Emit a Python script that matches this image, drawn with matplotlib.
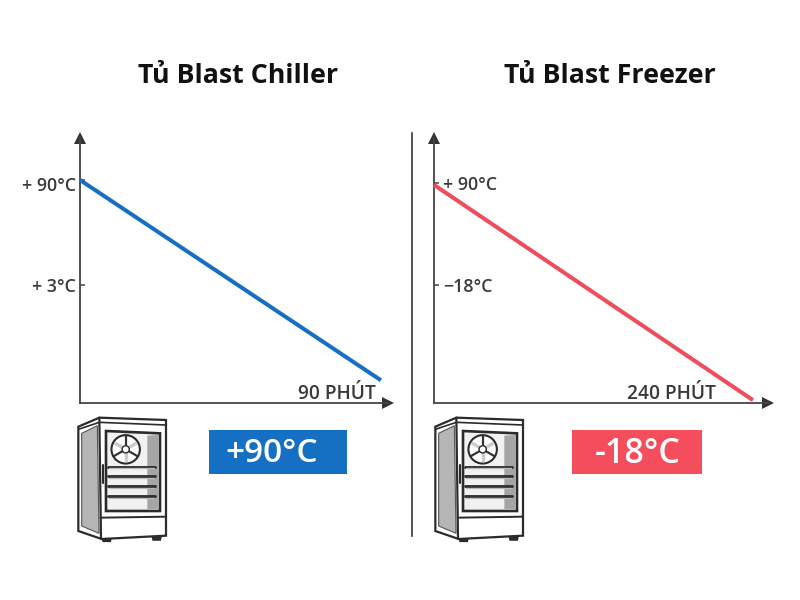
import matplotlib
matplotlib.use("Agg")
import matplotlib.pyplot as plt
from matplotlib.patches import Polygon, Circle, Rectangle
from matplotlib.transforms import ScaledTranslation
import numpy as np

plt.rcParams['font.family'] = ['Open Sans', 'DejaVu Sans']

chiller_time = [0, 90]
chiller_temp = [90, -76]
chiller_ticks = [90, 3]
chiller_labels = ['+ 90°C', '+ 3°C']
chiller_xlabel = '90 PHÚT'
chiller_title = 'Tủ Blast Chiller'
chiller_badge = '+90°C'

freezer_time = [0, 240]
freezer_temp = [88, -140]
freezer_ticks = [90, -18]
freezer_labels = ['+ 90°C', '−18°C']
freezer_xlabel = '240 PHÚT'
freezer_title = 'Tủ Blast Freezer'
freezer_badge = '-18°C'

BLUE = '#1570c4'
RED = '#ef4d5b'
AXC = '#444444'
TXT = '#3a3a3a'

fig = plt.figure(figsize=(8, 6), dpi=100)
W, H = 800, 600

overlay = fig.add_axes([0, 0, 1, 1])
overlay.set_xlim(0, W)
overlay.set_ylim(H, 0)
overlay.axis('off')


def chart(px_left, px_right, px_top, px_bottom, xlim, ylim, t, v, ticks, labels, color, inside, xlabel, xlabel_px):
    ax = fig.add_axes([px_left / W, 1 - px_bottom / H, (px_right - px_left) / W, (px_bottom - px_top) / H])
    ax.patch.set_alpha(0)
    ax.set_xlim(*xlim)
    ax.set_ylim(*ylim)
    for s in ('top', 'right'):
        ax.spines[s].set_visible(False)
    for s in ('left', 'bottom'):
        ax.spines[s].set_color(AXC)
        ax.spines[s].set_linewidth(1.3)
    ax.plot(t, v, color=color, lw=2.9, solid_capstyle='butt', clip_on=False, zorder=3)
    ax.set_xticks([])
    ax.set_yticks(ticks)
    ax.set_yticklabels(labels, fontsize=12.8, fontweight=600, color=TXT)
    ax.tick_params(axis='y', direction='in', length=3.5, width=1.1, color=AXC,
                   pad=-6.8 if inside else 3.2)
    offset = ScaledTranslation(0, -3 / 72 if not inside else 0, fig.dpi_scale_trans)
    for i, lab in enumerate(ax.get_yticklabels()):
        if inside:
            lab.set_ha('left')
        if i == 0:
            lab.set_transform(lab.get_transform() + offset)
    ax.plot(1, 0, marker='>', ms=8.5, color='#333333', transform=ax.transAxes, clip_on=False, mew=0)
    ax.plot(0, 1, marker='^', ms=8.5, color='#333333', transform=ax.transAxes, clip_on=False, mew=0)
    ax.text(xlabel_px, 394, xlabel, fontsize=13.8, fontweight=600, color=TXT, ha='center', va='center',
            transform=overlay.transData)
    return ax


chart(80, 388, 138, 403, (0, 92.1), (-94.8, 124.8), chiller_time, chiller_temp, chiller_ticks,
      chiller_labels, BLUE, False, chiller_xlabel, 337)
chart(434, 768, 138, 403, (0, 251.3), (-143, 137.6), freezer_time, freezer_temp, freezer_ticks,
      freezer_labels, RED, True, freezer_xlabel, 671)

overlay.plot([411.5, 411.5], [133, 536], color='#222222', lw=1.1)

overlay.text(238.5, 76, chiller_title, fontsize=19.3, fontweight='bold', color='#111111', ha='center', va='center')
overlay.text(610, 76, freezer_title, fontsize=19.3, fontweight='bold', color='#111111', ha='center', va='center')

overlay.add_patch(Rectangle((209, 430), 138, 44, fc=BLUE, ec='none'))
overlay.add_patch(Rectangle((572, 430), 130, 44, fc='#f44d5c', ec='none'))
overlay.text(271.5, 454, chiller_badge, fontsize=24, fontweight=600, color='white', ha='center', va='center')
overlay.text(637.5, 454, freezer_badge, fontsize=24.5, fontweight=600, color='white', ha='center', va='center')


def fridge(dx):
    def p(x, y):
        return (x / 3 + 60 + dx, y / 3 + 405)

    def poly(pts, fc='white', ec='#2b2b2b', lw=1.6, z=2):
        overlay.add_patch(Polygon([p(*q) for q in pts], closed=True, fc=fc, ec=ec, lw=lw, zorder=z))

    def line(pts, c='#2b2b2b', lw=1.3, z=4):
        xy = np.array([p(*q) for q in pts])
        overlay.plot(xy[:, 0], xy[:, 1], color=c, lw=lw, zorder=z, solid_capstyle='round')

    # feet
    poly([(128, 398), (152, 398), (150, 408), (130, 408)], fc='#333333', z=1)
    poly([(278, 395), (302, 395), (300, 404), (280, 404)], fc='#333333', z=1)
    # body
    poly([(55, 65), (118, 38), (318, 45), (318, 392), (125, 402), (55, 378)])
    line([(118, 38), (123, 402)], lw=1.6)
    line([(58, 72), (118, 52), (318, 60)], lw=1.2)
    poly([(65, 85), (112, 62), (117, 385), (65, 363)], fc='#b5b5b5', ec='#555555', lw=0.8)
    line([(122, 338), (318, 335)], lw=1.4)
    # window
    poly([(138, 78), (300, 85), (300, 318), (138, 318)], fc='#f1f1f1', lw=1.9)
    poly([(262, 92), (296, 90), (296, 312), (262, 312)], fc='#a5a5a5', ec='none', z=3)
    # fan
    cx, cy = p(197, 133)
    overlay.add_patch(Circle((cx, cy), 14.2, fc='white', ec='#2b2b2b', lw=1.5, zorder=4))
    for a in (30, 150, 270):
        r = np.radians(a)
        overlay.plot([cx, cx + 13 * np.cos(r)], [cy, cy + 13 * np.sin(r)], color='#333333', lw=1.6, zorder=4)
    for a in (90, 210, 330):
        r = np.radians(a)
        overlay.plot([cx + 4 * np.cos(r), cx + 11 * np.cos(r)], [cy + 4 * np.sin(r), cy + 11 * np.sin(r)],
                     color='#cccccc', lw=2.5, zorder=4)
    overlay.add_patch(Circle((cx, cy), 3.6, fc='white', ec='#2b2b2b', lw=1.0, zorder=5))
    # shelves
    for y in (185, 213, 243, 273):
        line([(143, y), (285, y)], c='#333333', lw=2.1, z=5)
        line([(146, y + 5), (283, y + 5)], c='#bbbbbb', lw=0.9, z=5)
    # handle
    line([(130, 180), (130, 235)], lw=1.5)


fridge(0)
fridge(357)

fig.savefig('out.png', dpi=100)
